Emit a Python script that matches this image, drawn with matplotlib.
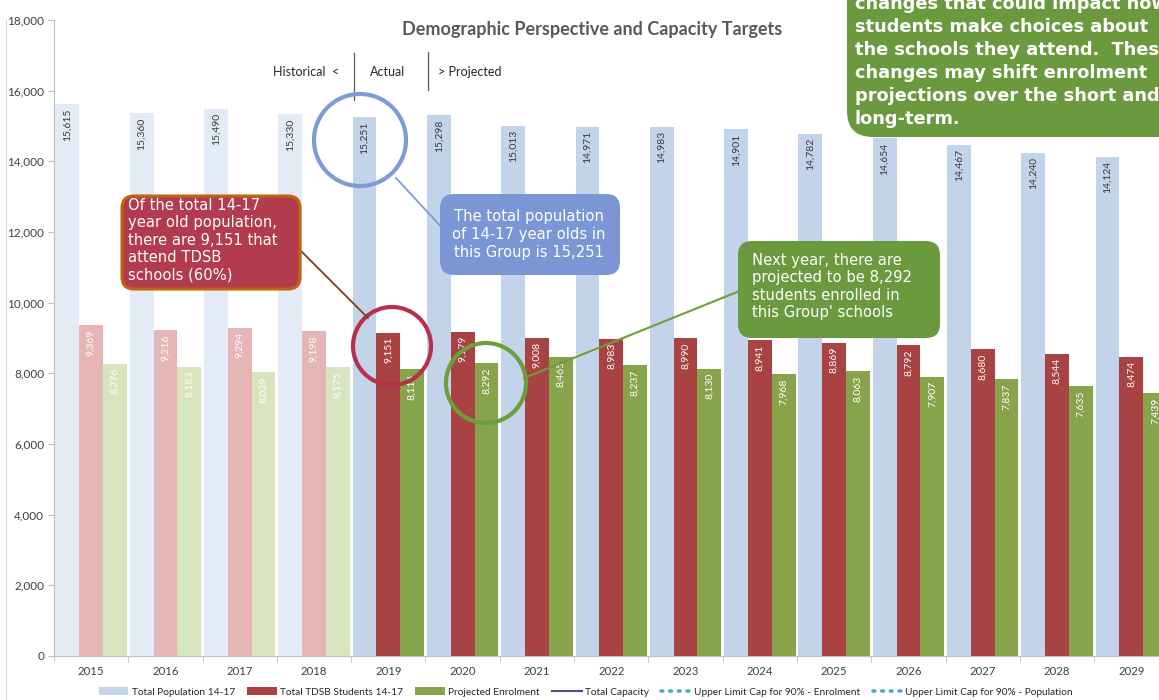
import matplotlib
matplotlib.use('Agg')
import matplotlib.pyplot as plt
import matplotlib.transforms as mtransforms
from matplotlib.patches import FancyBboxPatch, Ellipse, Patch
from matplotlib.lines import Line2D
import numpy as np

# ---------------- data ----------------
years = ['2015', '2016', '2017', '2018', '2019', '2020', '2021', '2022',
         '2023', '2024', '2025', '2026', '2027', '2028', '2029']
population = [15615, 15360, 15490, 15330, 15251, 15298, 15013, 14971,
              14983, 14901, 14782, 14654, 14467, 14240, 14124]
tdsb_students = [9369, 9216, 9294, 9198, 9151, 9179, 9008, 8983,
                 8990, 8941, 8869, 8792, 8680, 8544, 8474]
enrolment = [8276, 8183, 8029, 8175, 8114, 8292, 8465, 8237,
             8130, 7968, 8063, 7907, 7837, 7635, 7439]
n_historical = 4
y_ticks = [0, 2000, 4000, 6000, 8000, 10000, 12000, 14000, 16000, 18000]
legend_labels = ['Total Population 14-17', 'Total TDSB Students 14-17',
                 'Projected Enrolment', 'Total Capacity',
                 'Upper Limit Cap for 90% - Enrolment',
                 'Upper Limit Cap for 90% - Population']

# ---------------- styles ----------------
W, H = 1159, 700
BLUE, BLUE_H = '#C3D4EA', '#E3EBF6'
RED, RED_H = '#A94242', '#E6B6B6'
GREEN, GREEN_H = '#87A44B', '#D8E4BE'
CAP_COLOR = '#5B4A8A'
LIMIT_COLOR = '#4BACC6'
CHART_FONT = ['Lato', 'DejaVu Sans']
BOX_FONT = ['DejaVu Sans']

fig = plt.figure(figsize=(W / 100, H / 100), dpi=100)
fig.patch.set_facecolor('white')
px = mtransforms.Affine2D().scale(1 / W, -1 / H).translate(0, 1) + fig.transFigure

cat_w = 74.3
ax = fig.add_axes([54 / W, 44 / H, cat_w * 15 / W, 636 / H])

x = np.arange(len(years))
bw = 0.32

def shade(i, normal, hist):
    return hist if i < n_historical else normal

pop_c = [shade(i, BLUE, BLUE_H) for i in x]
red_c = [shade(i, RED, RED_H) for i in x]
grn_c = [shade(i, GREEN, GREEN_H) for i in x]

ax.bar(x - bw, population, bw, color=pop_c, zorder=2)
ax.bar(x, tdsb_students, bw, color=red_c, zorder=2)
ax.bar(x + bw, enrolment, bw, color=grn_c, zorder=2)
# series with no visible marks, shown only in the legend
ax.plot([], [], color=CAP_COLOR)
ax.plot([], [], color=LIMIT_COLOR)

for i in x:
    ax.annotate(f'{population[i]:,}', (i - bw, population[i]), xytext=(0, -3),
                textcoords='offset points', rotation=90, ha='center', va='top',
                fontsize=7.5, color='#3A3A3A', family=CHART_FONT, zorder=3)
    ax.annotate(f'{tdsb_students[i]:,}', (i, tdsb_students[i]), xytext=(0, -3),
                textcoords='offset points', rotation=90, ha='center', va='top',
                fontsize=7.5, color='white', family=CHART_FONT, zorder=3)
    ax.annotate(f'{enrolment[i]:,}', (i + bw, enrolment[i]), xytext=(0, -3),
                textcoords='offset points', rotation=90, ha='center', va='top',
                fontsize=7.5, color='white', family=CHART_FONT, zorder=3)

ax.set_xlim(-0.5, len(years) - 0.5)
ax.set_ylim(0, 18000)
ax.set_yticks(y_ticks)
ax.set_yticklabels([f'{v:,}' for v in y_ticks], family=CHART_FONT, fontsize=8.5, color='#404040')
ax.set_xticks(x)
ax.set_xticklabels(years, family=CHART_FONT, fontsize=8.2, color='#404040')
ax.set_xticks(np.arange(-0.5, len(years), 1), minor=True)
ax.tick_params(axis='x', which='major', length=0, pad=7)
ax.tick_params(axis='x', which='minor', length=4, color='#BFBFBF')
ax.tick_params(axis='y', length=4, color='#BFBFBF', pad=3)
for s in ['top', 'right']:
    ax.spines[s].set_visible(False)
for s in ['left', 'bottom']:
    ax.spines[s].set_color('#BFBFBF')
ax.set_facecolor('white')

# legend
dots = dict(color=LIMIT_COLOR, lw=2.6, linestyle=(0, (0.5, 1.9)), dash_capstyle='round')
handles = [Patch(facecolor=BLUE), Patch(facecolor=RED), Patch(facecolor=GREEN),
           Line2D([], [], color=CAP_COLOR, lw=1.5),
           Line2D([], [], **dots), Line2D([], [], **dots)]
leg = fig.legend(handles, legend_labels, loc='center', bbox_to_anchor=(586, 692),
                 bbox_transform=px, ncol=6, frameon=False,
                 prop={'family': CHART_FONT, 'size': 7.3},
                 handlelength=2.9, handleheight=0.8, handletextpad=0.35, columnspacing=1.2)
for t in leg.get_texts():
    t.set_color('#262626')

# title and period markers
fig.text(592, 30, 'Demographic Perspective and Capacity Targets', transform=px,
         ha='center', va='center', fontsize=13, fontweight='bold', color='#595959',
         family=CHART_FONT)
fig.text(339, 72, 'Historical  <', transform=px, ha='right', va='center',
         fontsize=9, color='#262626', family=CHART_FONT)
fig.text(388, 72, 'Actual', transform=px, ha='center', va='center',
         fontsize=9, color='#262626', family=CHART_FONT)
fig.text(438, 72, '> Projected', transform=px, ha='left', va='center',
         fontsize=9, color='#262626', family=CHART_FONT)
fig.add_artist(Line2D([354, 354], [53, 100], transform=px, color='#595959', lw=0.9))
fig.add_artist(Line2D([428, 428], [52, 90], transform=px, color='#595959', lw=0.9))

# faint slide frame line
fig.add_artist(Line2D([6, 6], [20, 700], transform=px, color='#D9D9D9', lw=0.8))

# circles
fig.add_artist(Ellipse((360, 140), 92, 92, transform=px, fill=False, ec='#7F9BD6', lw=3, zorder=4))
fig.add_artist(Ellipse((392, 346), 78, 78, transform=px, fill=False, ec='#B5304A', lw=3, zorder=4))
fig.add_artist(Ellipse((486, 383), 80, 80, transform=px, fill=False, ec='#6C9E3C', lw=3, zorder=4))

# connector lines
fig.add_artist(Line2D([300, 368], [250, 318], transform=px, color='#7F3F10', lw=1.3, zorder=4))
fig.add_artist(Line2D([396, 446], [178, 232], transform=px, color='#7F9BD6', lw=1.3, zorder=4))
fig.add_artist(Line2D([524, 742], [378, 290], transform=px, color='#6C9E3C', lw=1.5, zorder=4))

# callout boxes
def box(x0, y0, w, h, fc, ec=None, lw=0, r=12):
    fig.add_artist(FancyBboxPatch((x0, y0), w, h,
                                  boxstyle=f'round,pad=0,rounding_size={r}',
                                  transform=px, fc=fc, ec=ec if ec else fc, lw=lw, zorder=5))

def lines(xpos, y0, step, texts, ha='left', size=10.6, weight='normal'):
    for k, s in enumerate(texts):
        fig.text(xpos, y0 + k * step, s, transform=px, ha=ha, va='center',
                 fontsize=size, fontweight=weight, color='white', family=BOX_FONT, zorder=6)

box(122, 196, 178, 93, '#B33B4E', ec='#C0640E', lw=2.2, r=12)
lines(128, 205, 17.6, ['Of the total 14-17', 'year old population,',
                       'there are 9,151 that', 'attend TDSB', 'schools (60%)'])

box(440, 194, 180, 81, '#7B96D4', r=14)
lines(529, 217, 18, ['The total population', 'of 14-17 year olds in',
                     'this Group is 15,251'], ha='center')

box(738, 241, 202, 97, '#6B9A3E', r=14)
lines(752, 260, 17.5, ['Next year, there are', 'projected to be 8,292',
                       'students enrolled in', "this Group' schools"])

box(847, -60, 420, 197, '#6B9A3E', r=26)
lines(855, 4, 23, ['changes that could impact how', 'students make choices about',
                   'the schools they attend.  These', 'changes may shift enrolment',
                   'projections over the short and', 'long-term.'],
      size=12.8, weight='bold')

fig.savefig('out.png', dpi=100, facecolor='white')
